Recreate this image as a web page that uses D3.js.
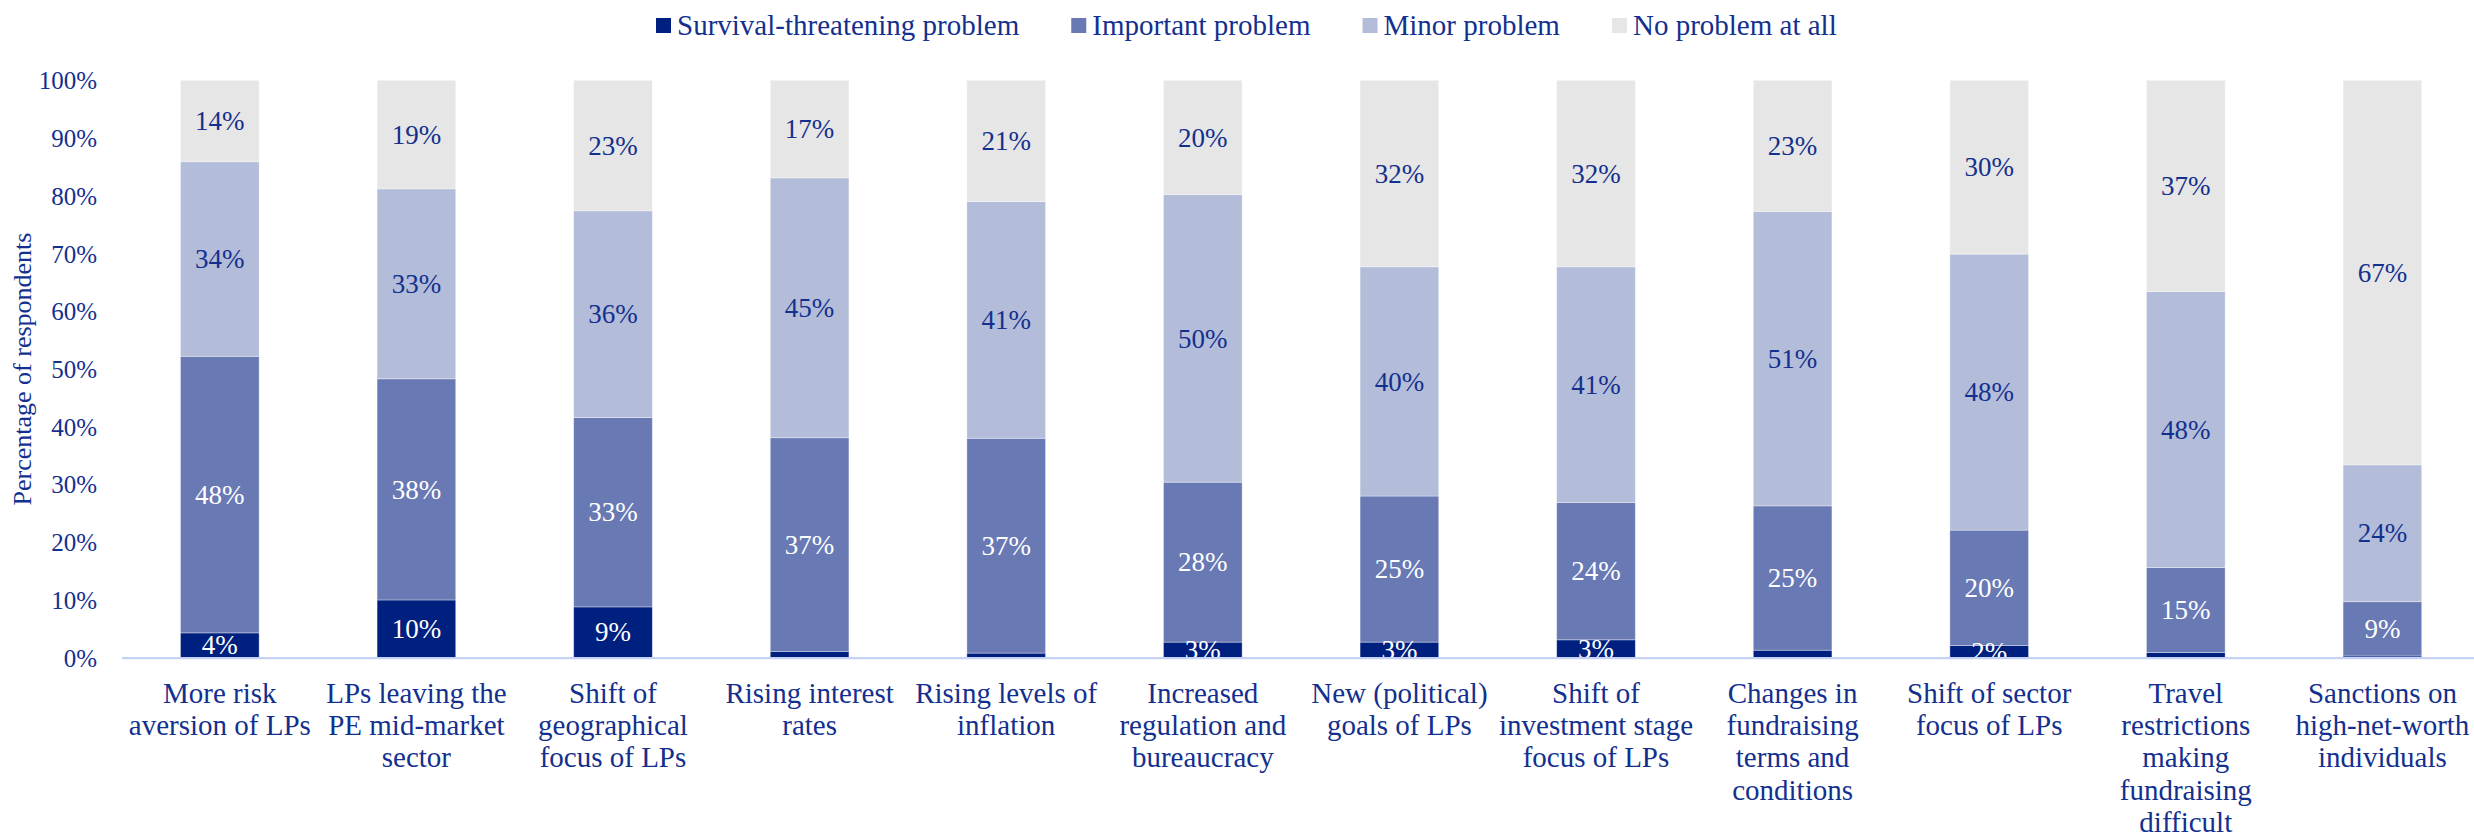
<!DOCTYPE html>
<html>
<head>
<meta charset="utf-8">
<script src="https://cdn.jsdelivr.net/npm/d3@7"></script>
<style>
  html, body { margin: 0; padding: 0; background: #fff; }
  svg { display: block; font-family: "Liberation Serif", "Times New Roman", serif; }
</style>
</head>
<body>
<svg id="chart" width="2474" height="839"></svg>
<script>
const categories = [
  "More risk\naversion of LPs",
  "LPs leaving the\nPE mid-market\nsector",
  "Shift of\ngeographical\nfocus of LPs",
  "Rising interest\nrates",
  "Rising levels of\ninflation",
  "Increased\nregulation and\nbureaucracy",
  "New (political)\ngoals of LPs",
  "Shift of\ninvestment stage\nfocus of LPs",
  "Changes in\nfundraising\nterms and\nconditions",
  "Shift of sector\nfocus of LPs",
  "Travel\nrestrictions\nmaking\nfundraising\ndifficult",
  "Sanctions on\nhigh-net-worth\nindividuals"
];
const seriesNames = ["Survival-threatening problem", "Important problem", "Minor problem", "No problem at all"];
const survival  = [4.3, 10.0, 8.8, 1.1, 0.8, 2.7, 2.7, 3.1, 1.3, 2.1, 0.9, 0.3];
const important = [47.9, 38.3, 32.8, 37.0, 37.2, 27.7, 25.3, 23.8, 25.0, 20.0, 14.7, 9.4];
const minor     = [33.7, 32.9, 35.8, 45.0, 41.0, 49.8, 39.7, 40.8, 51.0, 47.8, 47.8, 23.7];
const noProblem = [14.1, 18.8, 22.6, 16.9, 21.0, 19.8, 32.3, 32.3, 22.7, 30.1, 36.6, 66.6];
const yTicks = [0, 10, 20, 30, 40, 50, 60, 70, 80, 90, 100];
const yTitle = "Percentage of respondents";

const colors = ["#002080", "#6879B4", "#B3BCD9", "#E6E6E6"];
const labelColors = ["#ffffff", "#ffffff", "#13308E", "#13308E"];
const textColor = "#13308E";

const seriesValues = [survival, important, minor, noProblem];
const keys = ["s0", "s1", "s2", "s3"];
const rows = categories.map((c, i) => {
  const r = { cat: c };
  keys.forEach((k, j) => r[k] = seriesValues[j][i]);
  return r;
});
const stacked = d3.stack().keys(keys)(rows);

const svg = d3.select("#chart");

const x = d3.scaleBand()
  .domain(categories)
  .range([121.5, 2480.7])
  .paddingInner(0.6)
  .paddingOuter(0.3);
const y = d3.scaleLinear().domain([0, 100]).range([657.7, 80.3]);

// bars
const g = svg.append("g");
stacked.forEach((layer, j) => {
  g.append("g").selectAll("rect").data(layer).enter().append("rect")
    .attr("x", d => x(d.data.cat))
    .attr("width", x.bandwidth())
    .attr("y", d => y(d[1]))
    .attr("height", d => y(d[0]) - y(d[1]))
    .attr("fill", colors[j])
    .attr("stroke", "#ffffff")
    .attr("stroke-opacity", 0.45)
    .attr("stroke-width", 0.8);
});

// data labels
stacked.forEach((layer, j) => {
  g.append("g").selectAll("text").data(layer.filter(d => (d[1] - d[0]) >= 1.5)).enter().append("text")
    .attr("x", d => x(d.data.cat) + x.bandwidth() / 2)
    .attr("y", d => (y(d[0]) + y(d[1])) / 2)
    .attr("dy", "0.34em")
    .attr("text-anchor", "middle")
    .attr("font-size", 27)
    .attr("fill", labelColors[j])
    .text(d => Math.round(d[1] - d[0]) + "%");
});

// x axis line
const xAxis = d3.axisBottom(x).tickSize(0).tickFormat("");
const xg = svg.append("g").attr("transform", "translate(0," + y(0) + ")").call(xAxis);
xg.select(".domain").attr("stroke", "#C5D2F5").attr("stroke-width", 2.2);

// category labels
svg.append("g").selectAll("text").data(categories).enter().append("text")
  .attr("x", d => x(d) + x.bandwidth() / 2)
  .attr("y", 702.7)
  .attr("text-anchor", "middle")
  .attr("font-size", 29)
  .attr("fill", textColor)
  .each(function(d) {
    const t = d3.select(this);
    d.split("\n").forEach((line, i) => {
      t.append("tspan")
        .attr("x", x(d) + x.bandwidth() / 2)
        .attr("dy", i === 0 ? 0 : 32.3)
        .text(line);
    });
  });

// y axis
const yAxis = d3.axisLeft(y).tickValues(yTicks).tickSize(0).tickPadding(0).tickFormat(d => d + "%");
const yg = svg.append("g").attr("transform", "translate(97,0)").call(yAxis);
yg.select(".domain").remove();
yg.selectAll("text")
  .attr("font-family", "Liberation Serif, Times New Roman, serif")
  .attr("font-size", 25)
  .attr("fill", textColor)
  .attr("dy", "0.34em");

// y title
svg.append("text")
  .attr("transform", "translate(31," + ((y(0) + y(100)) / 2) + ") rotate(-90)")
  .attr("text-anchor", "middle")
  .attr("font-size", 26)
  .attr("fill", textColor)
  .text(yTitle);

// legend
const legend = svg.append("g");
let lx = 656;
seriesNames.forEach((name, i) => {
  legend.append("rect")
    .attr("x", lx).attr("y", 18).attr("width", 15).attr("height", 15)
    .attr("fill", colors[i]);
  const t = legend.append("text")
    .attr("x", lx + 21).attr("y", 35)
    .attr("font-size", 29)
    .attr("fill", textColor)
    .text(name);
  const w = t.node().getComputedTextLength();
  lx = lx + 21 + w + 52;
});
</script>
</body>
</html>
